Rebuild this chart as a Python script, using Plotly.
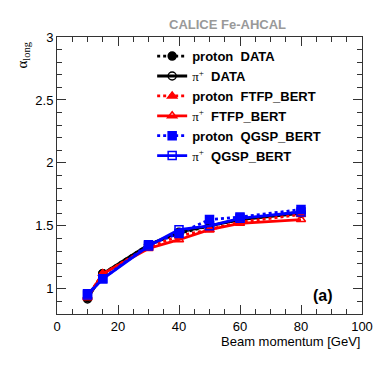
import plotly.graph_objects as go

energies = [10, 15, 30, 40, 50, 60, 80]
proton_data = [0.93, 1.12, 1.35, 1.44, 1.50, 1.55, 1.61]
pion_data = [0.92, 1.12, 1.35, 1.45, 1.50, 1.55, 1.60]
proton_ftfp = [0.94, 1.12, 1.33, 1.42, 1.47, 1.53, 1.59]
pion_ftfp = [0.93, 1.12, 1.32, 1.39, 1.47, 1.52, 1.55]
proton_qgsp = [0.96, 1.08, 1.35, 1.44, 1.55, 1.57, 1.63]
pion_qgsp = [0.95, 1.08, 1.34, 1.47, 1.50, 1.56, 1.61]

PI = "<span style='font-family:Liberation Serif;font-weight:normal'>π<sup>+</sup></span>"
series = [
    ("<b>proton&nbsp; DATA</b>", proton_data, "black", "dot", "circle"),
    (PI + "<b>&nbsp; DATA</b>", pion_data, "black", "solid", "circle-open"),
    ("<b>proton&nbsp; FTFP_BERT</b>", proton_ftfp, "red", "dot", "triangle-up"),
    (PI + "<b>&nbsp; FTFP_BERT</b>", pion_ftfp, "red", "solid", "triangle-up-open"),
    ("<b>proton&nbsp; QGSP_BERT</b>", proton_qgsp, "blue", "dot", "square"),
    (PI + "<b>&nbsp; QGSP_BERT</b>", pion_qgsp, "blue", "solid", "square-open"),
]

fig = go.Figure()
for name, vals, col, dash, sym in series:
    fig.add_trace(go.Scatter(
        x=energies, y=vals, name=name, mode="lines+markers",
        line=dict(color=col, dash=dash, width=2.8),
        marker=dict(symbol=sym, color=col, size=8,
                    line=dict(color=col, width=1.5)),
    ))

axis_common = dict(
    showgrid=False, zeroline=False, showline=True, linecolor="#333",
    linewidth=1, mirror="ticks", ticks="inside", tickcolor="#333",
    ticklen=9, tickwidth=1,
    tickfont=dict(family="Liberation Sans", size=13, color="black"),
)

fig.update_layout(
    width=382, height=366,
    margin=dict(l=49, r=28, t=29, b=60),
    paper_bgcolor="white", plot_bgcolor="white",
    font=dict(family="Liberation Sans", size=13, color="black"),
    showlegend=True,
    legend=dict(
        x=0.312, y=0.985, xanchor="left", yanchor="top",
        bgcolor="rgba(0,0,0,0)", borderwidth=0,
        font=dict(family="Liberation Sans", size=13, color="black"),
        itemwidth=30, tracegroupgap=0,
    ),
    xaxis=dict(range=[0, 100], dtick=20,
               minor=dict(dtick=5, ticklen=5, ticks="inside", tickcolor="#333"),
               **axis_common),
    yaxis=dict(range=[0.8, 3], tickvals=[1, 1.5, 2, 2.5, 3],
               ticktext=["1", "1.5", "2", "2.5", "3"],
               minor=dict(dtick=0.1, ticklen=5, ticks="inside", tickcolor="#333"),
               **axis_common),
    annotations=[
        dict(text="<b>CALICE Fe-AHCAL</b>", xref="paper", yref="paper",
             x=0.56, y=1.0, xanchor="center", yanchor="bottom", yshift=3,
             showarrow=False, font=dict(size=13, color="#999999")),
        dict(text="α<sub>long</sub>", xref="paper", yref="paper",
             x=0, xshift=-35, y=1.0, yshift=-3, xanchor="center", yanchor="top",
             textangle=-90, showarrow=False,
             font=dict(family="Liberation Serif", size=15, color="black")),
        dict(text="Beam momentum [GeV]", xref="paper", yref="paper",
             x=1.0, y=0, yshift=-18, xanchor="right", yanchor="top",
             showarrow=False, font=dict(size=13, color="black")),
        dict(text="<b>(a)</b>", xref="paper", yref="paper",
             x=0.91, y=0.065, xanchor="right", yanchor="middle",
             showarrow=False, font=dict(size=16, color="black")),
    ],
)

fig.write_html("out.html")
